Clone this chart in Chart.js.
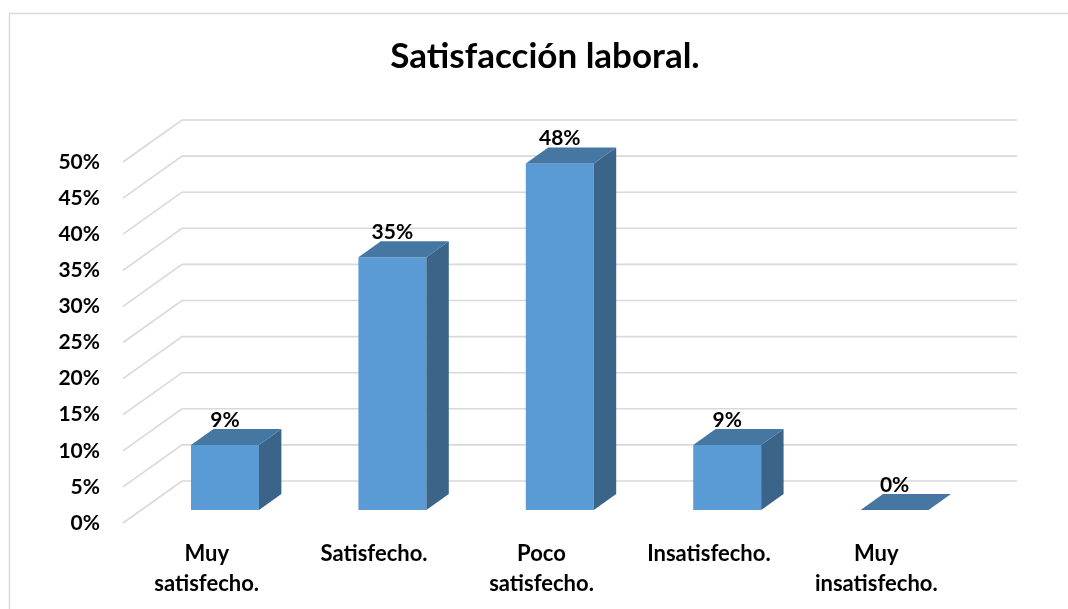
<!DOCTYPE html>
<html>
<head>
<meta charset="utf-8">
<script src="https://cdn.jsdelivr.net/npm/chart.js@4.4.1/dist/chart.umd.min.js"></script>
<style>
  html, body { margin: 0; padding: 0; background: #fff; }
  #contenedor { width: 1068px; height: 609px; }
</style>
</head>
<body>
<div id="contenedor"><canvas id="grafico" width="1068" height="609"></canvas></div>
<script>
// datos del gráfico
const titulo = "Satisfacción laboral.";
const categorias = [["Muy", "satisfecho."], "Satisfecho.", ["Poco", "satisfecho."], "Insatisfecho.", ["Muy", "insatisfecho."]];
const porcentajes = [9, 35, 48, 9, 0];
const ejeMin = 0;
const ejeMax = 50;
const ejePaso = 5;

// profundidad del "piso" 3D (frente -> fondo) y posición de las barras dentro de él
const PROF_X = 59, PROF_Y = -42;
const FRENTE = 0.31, FONDO = 0.69;
const fuente = "Lato, 'Liberation Sans', sans-serif";

const efecto3D = {
  id: "efecto3D",
  beforeDraw(chart) {
    const { ctx, width, height } = chart;
    ctx.save();
    ctx.fillStyle = "#fff";
    ctx.fillRect(0, 0, width, height);
    ctx.strokeStyle = "#d9d9d9";
    ctx.lineWidth = 1.5;
    ctx.strokeRect(9.5, 13.5, width + 20, height + 20);
    ctx.restore();
  },
  beforeDatasetsDraw(chart) {
    const { ctx, chartArea, scales: { y } } = chart;
    ctx.save();
    ctx.strokeStyle = "#d9d9d9";
    ctx.lineWidth = 1.6;
    y.ticks.forEach(t => {
      const py = y.getPixelForValue(t.value);
      ctx.beginPath();
      ctx.moveTo(chartArea.left, py);
      ctx.lineTo(chartArea.left + PROF_X, py + PROF_Y);
      ctx.lineTo(chartArea.right + PROF_X - 2, py + PROF_Y);
      ctx.stroke();
    });
    ctx.restore();
  },
  afterDatasetsDraw(chart) {
    const { ctx } = chart;
    const meta = chart.getDatasetMeta(0);
    const fx = PROF_X * FRENTE, fy = PROF_Y * FRENTE;
    const dx = PROF_X * (FONDO - FRENTE), dy = PROF_Y * (FONDO - FRENTE);
    ctx.save();
    meta.data.forEach((barra, i) => {
      const { x, y, base, width } = barra.getProps(["x", "y", "base", "width"], true);
      const l = x - width / 2 + fx, r = x + width / 2 + fx;
      const t = y + fy, b = base + fy;

      ctx.fillStyle = "#5b9bd5";
      ctx.fillRect(l, t, r - l, b - t);

      ctx.fillStyle = "#3b6489";
      ctx.beginPath();
      ctx.moveTo(r, t);
      ctx.lineTo(r + dx, t + dy);
      ctx.lineTo(r + dx, b + dy);
      ctx.lineTo(r, b);
      ctx.closePath();
      ctx.fill();

      ctx.fillStyle = "#4677a3";
      ctx.beginPath();
      ctx.moveTo(l, t);
      ctx.lineTo(r, t);
      ctx.lineTo(r + dx, t + dy);
      ctx.lineTo(l + dx, t + dy);
      ctx.closePath();
      ctx.fill();

      ctx.fillStyle = "#000";
      ctx.font = "bold 21px " + fuente;
      ctx.textAlign = "center";
      ctx.textBaseline = "middle";
      ctx.fillText(porcentajes[i] + "%", (l + r) / 2, t - 25);
    });
    ctx.restore();
  }
};

new Chart(document.getElementById("grafico"), {
  type: "bar",
  data: {
    labels: categorias,
    datasets: [{
      data: porcentajes,
      backgroundColor: "rgba(0,0,0,0)",
      borderWidth: 0,
      barPercentage: 0.406,
      categoryPercentage: 1
    }]
  },
  options: {
    responsive: false,
    animation: false,
    devicePixelRatio: 1,
    layout: { padding: { left: 22, right: 0, top: 0, bottom: 0 } },
    plugins: {
      legend: { display: false },
      tooltip: { enabled: false },
      title: {
        display: true,
        text: titulo,
        color: "#000",
        font: { family: fuente, size: 35, weight: "bold", lineHeight: 1.2 },
        padding: { top: 35.5, bottom: 84.5 }
      }
    },
    scales: {
      x: {
        grid: { display: false, drawTicks: false },
        border: { display: false },
        ticks: {
          color: "#000",
          font: { family: fuente, size: 22, weight: "bold", lineHeight: 1.36 },
          padding: 16,
          maxRotation: 0,
          autoSkip: false
        },
        afterFit(s) { s.height = 86; }
      },
      y: {
        min: ejeMin,
        max: ejeMax,
        grid: { display: false, drawTicks: false },
        border: { display: false },
        ticks: {
          stepSize: ejePaso,
          color: "#000",
          font: { family: fuente, size: 21, weight: "bold" },
          padding: 23,
          callback: v => v + "%"
        },
        afterFit(s) { s.width = 101; }
      },
      // eje vacío a la derecha: solo reserva el margen derecho del área del gráfico
      margen: {
        position: "right",
        grid: { display: false, drawTicks: false },
        border: { display: false },
        ticks: { display: false },
        afterFit(s) { s.width = 108; }
      }
    }
  },
  plugins: [efecto3D]
});
</script>
</body>
</html>
